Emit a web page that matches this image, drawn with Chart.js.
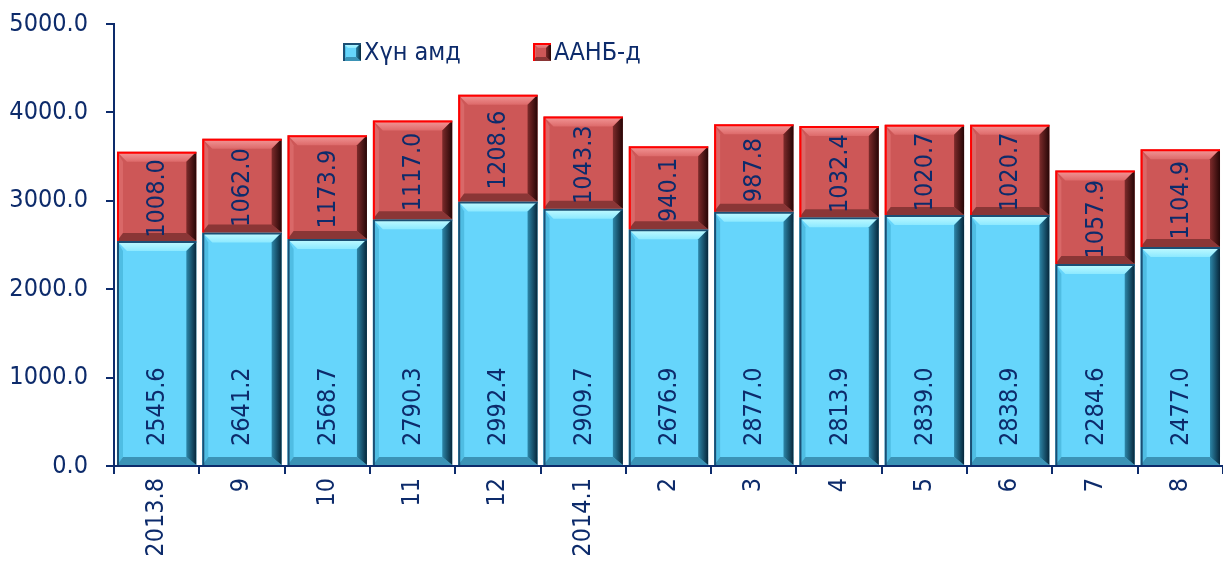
<!DOCTYPE html>
<html>
<head>
<meta charset="utf-8">
<script src="https://cdn.jsdelivr.net/npm/chart.js@4.4.1/dist/chart.umd.min.js"></script>
<style>
  html, body { margin: 0; padding: 0; background: #fff; }
  #wrap { width: 1223px; height: 565px; }
</style>
</head>
<body>
<div id="wrap"><canvas id="myBarChart"></canvas></div>
<script>
const labels = ["2013.8", "9", "10", "11", "12", "2014.1", "2", "3", "4", "5", "6", "7", "8"];
const householdValues = [2545.6, 2641.2, 2568.7, 2790.3, 2992.4, 2909.7, 2676.9, 2877.0, 2813.9, 2839.0, 2838.9, 2284.6, 2477.0];
const companyValues = [1008.0, 1062.0, 1173.9, 1117.0, 1208.6, 1043.3, 940.1, 987.8, 1032.4, 1020.7, 1020.7, 1057.9, 1104.9];
const seriesNames = ["Хүн амд", "ААНБ-д"];

const navy = '#0d2b6b';
const fontFamily = '"DejaVu Sans Condensed", "DejaVu Sans", sans-serif';
const fontSize = 25;

// colours for the bevelled faces of each series
const bevels = [
    { main: '#66d5fb', top: ['#c4fbff', '#8ce9ff'], right: ['#2d86a8', '#06263a'], bottom: '#3b93b6', left: '#4fbde3', edge: '#1b4f74' },
    { main: '#cd5757', top: ['#f49a9a', '#dd6a6a'], right: ['#7d2b2b', '#260606'], bottom: '#8a3636', left: '#d96868', edge: '#ff0000' }
];

function poly(ctx, pts) {
    ctx.beginPath();
    ctx.moveTo(pts[0], pts[1]);
    for (let i = 2; i < pts.length; i += 2) ctx.lineTo(pts[i], pts[i + 1]);
    ctx.closePath();
    ctx.fill();
}

function drawBevel(ctx, l, t, r, b, st, e) {
    let g = ctx.createLinearGradient(0, t, 0, t + e);
    g.addColorStop(0, st.top[0]);
    g.addColorStop(1, st.top[1]);
    ctx.fillStyle = g;
    poly(ctx, [l, t, r, t, r - e, t + e, l + e, t + e]);
    ctx.fillStyle = st.left;
    poly(ctx, [l, t, l + e * 0.6, t + e, l + e * 0.6, b - e * 0.8, l, b]);
    ctx.fillStyle = st.bottom;
    poly(ctx, [l, b, r, b, r - e, b - e * 0.8, l + e * 0.6, b - e * 0.8]);
    g = ctx.createLinearGradient(r - e, 0, r, 0);
    g.addColorStop(0, st.right[0]);
    g.addColorStop(1, st.right[1]);
    ctx.fillStyle = g;
    poly(ctx, [r, t, r, b, r - e, b - e * 0.8, r - e, t + e]);
    ctx.strokeStyle = st.edge;
    ctx.lineWidth = 2;
    ctx.beginPath();
    ctx.moveTo(l + 1, b);
    ctx.lineTo(l + 1, t + 1);
    ctx.lineTo(r, t + 1);
    ctx.stroke();
}

const bevelPlugin = {
    id: 'bevel',
    afterDatasetsDraw(chart) {
        const ctx = chart.ctx;
        ctx.save();
        chart.data.datasets.forEach((ds, i) => {
            chart.getDatasetMeta(i).data.forEach(bar => {
                const p = bar.getProps(['x', 'y', 'base', 'width'], true);
                const l = p.x - p.width / 2, r = p.x + p.width / 2;
                const t = Math.min(p.y, p.base), b = Math.max(p.y, p.base);
                drawBevel(ctx, l, t, r, b, bevels[i], 10);
            });
        });
        ctx.restore();
    }
};

// values written vertically inside every segment
// ('base' = anchored near the bottom of the segment, otherwise centred)
const valueLabels = {
    id: 'valueLabels',
    afterDatasetsDraw(chart) {
        const ctx = chart.ctx;
        ctx.save();
        ctx.fillStyle = navy;
        ctx.font = fontSize + 'px ' + fontFamily;
        ctx.textBaseline = 'middle';
        chart.data.datasets.forEach((ds, i) => {
            chart.getDatasetMeta(i).data.forEach((bar, j) => {
                const p = bar.getProps(['x', 'y', 'base'], true);
                ctx.save();
                if (ds.labelAnchor === 'base') {
                    ctx.translate(p.x, p.base - 19);
                    ctx.textAlign = 'left';
                } else {
                    ctx.translate(p.x, (p.y + p.base) / 2 + 2);
                    ctx.textAlign = 'center';
                }
                ctx.rotate(-Math.PI / 2);
                ctx.fillText(ds.data[j].toFixed(1), 0, 1);
                ctx.restore();
            });
        });
        ctx.restore();
    }
};

// legend sitting inside the plot, above the bars
const insideLegend = {
    id: 'insideLegend',
    afterDraw(chart, args, opts) {
        const ctx = chart.ctx;
        ctx.save();
        ctx.font = fontSize + 'px ' + fontFamily;
        ctx.textBaseline = 'middle';
        chart.data.datasets.forEach((ds, i) => {
            const x = opts.x[i], y = opts.y, s = 18;
            const st = bevels[i];
            ctx.fillStyle = st.main;
            ctx.fillRect(x, y - s / 2, s, s);
            drawBevel(ctx, x, y - s / 2, x + s, y + s / 2, st, 5);
            ctx.fillStyle = navy;
            ctx.fillText(ds.label, x + s + 3, y + 1);
        });
        ctx.restore();
    }
};

const data = {
    labels: labels,
    datasets: [{
        label: seriesNames[0],
        data: householdValues,
        backgroundColor: bevels[0].main,
        borderWidth: 0,
        barPercentage: 0.93,
        categoryPercentage: 1,
        labelAnchor: 'base'
    }, {
        label: seriesNames[1],
        data: companyValues,
        backgroundColor: bevels[1].main,
        borderWidth: 0,
        barPercentage: 0.93,
        categoryPercentage: 1,
        labelAnchor: 'center'
    }]
};

const config = {
    type: 'bar',
    data: data,
    plugins: [bevelPlugin, valueLabels, insideLegend],
    options: {
        responsive: true,
        maintainAspectRatio: false,
        animation: false,
        layout: { padding: { top: 24, right: 0, bottom: 0, left: 0 } },
        scales: {
            x: {
                stacked: true,
                grid: { offset: true, drawOnChartArea: false, drawTicks: true, tickLength: 8, color: navy, lineWidth: 2 },
                border: { display: true, color: navy, width: 2 },
                ticks: {
                    color: navy,
                    font: { family: fontFamily, size: fontSize },
                    minRotation: 90,
                    maxRotation: 90,
                    autoSkip: false,
                    padding: 4
                },
                afterFit(scale) { scale.height = 99; }
            },
            y: {
                stacked: true,
                min: 0,
                max: 5000,
                grid: { drawOnChartArea: false, drawTicks: true, tickLength: 8, color: navy, lineWidth: 2 },
                border: { display: true, color: navy, width: 2 },
                ticks: {
                    stepSize: 1000,
                    color: navy,
                    font: { family: fontFamily, size: fontSize },
                    padding: 18,
                    callback: v => v.toFixed(1)
                },
                afterFit(scale) {
                    // fixed axis width; the wide label gap must not push the plot down
                    scale.width = 114;
                    scale.paddingTop = 0;
                    scale.paddingBottom = 0;
                }
            }
        },
        plugins: {
            legend: { display: false },
            tooltip: { enabled: false },
            insideLegend: { x: [343, 533], y: 52 }
        }
    }
};

const myBarChart = new Chart(document.getElementById('myBarChart').getContext('2d'), config);
</script>
</body>
</html>
